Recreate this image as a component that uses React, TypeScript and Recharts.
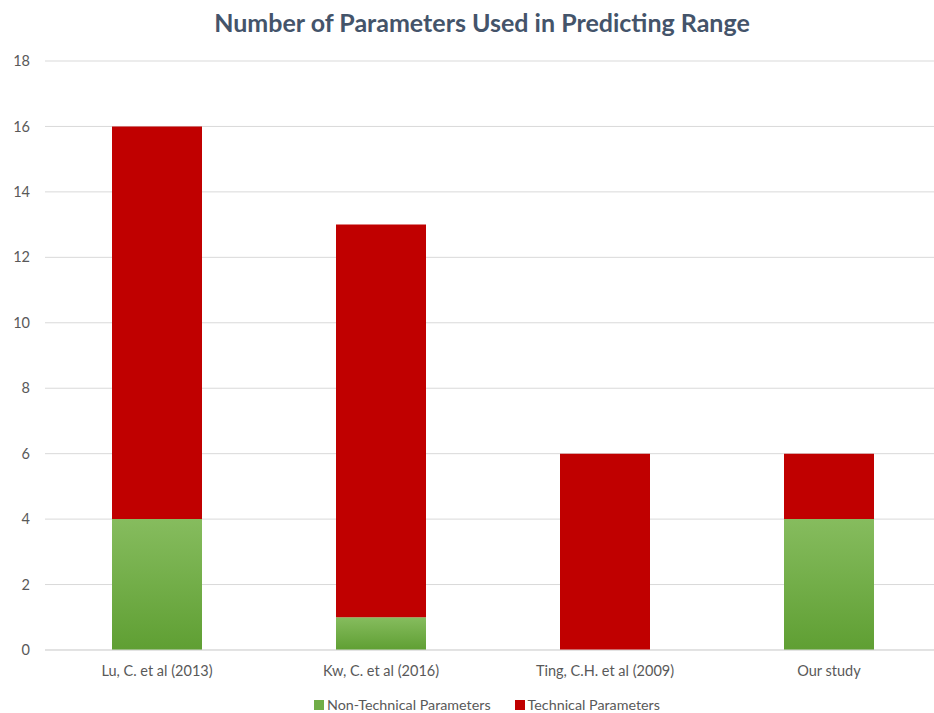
import React from 'react'
import { BarChart, Bar, XAxis, YAxis, CartesianGrid, Legend } from 'recharts'

const studies = ['Lu, C. et al (2013)', 'Kw, C. et al (2016)', 'Ting, C.H. et al (2009)', 'Our study']
const nonTechnical = [4, 1, 0, 4]
const technical = [12, 12, 6, 2]
const yTicks = [0, 2, 4, 6, 8, 10, 12, 14, 16, 18]

const data = studies.map((name, i) => ({
  name,
  nonTechnical: nonTechnical[i],
  technical: technical[i],
}))

const FONT = 'Lato, "Open Sans", sans-serif'
const TEXT = '#595959'

const renderLegend = () => (
  <div style={{ display: 'flex', justifyContent: 'center', gap: 24, paddingLeft: 33, fontFamily: FONT, fontSize: 14.3, color: TEXT, lineHeight: '17px' }}>
    <span style={{ display: 'flex', alignItems: 'center', gap: 3 }}>
      <span style={{ width: 10, height: 10, background: '#70AD47', display: 'inline-block' }} />
      Non-Technical Parameters
    </span>
    <span style={{ display: 'flex', alignItems: 'center', gap: 3 }}>
      <span style={{ width: 10, height: 10, background: '#C00000', display: 'inline-block' }} />
      Technical Parameters
    </span>
  </div>
)

export default function App() {
  return (
    <div style={{ position: 'absolute', left: 0, top: 0, width: 934, height: 713, background: '#fff', overflow: 'hidden' }}>
      <div
        style={{
          position: 'absolute',
          top: 7,
          width: 964,
          textAlign: 'center',
          fontFamily: FONT,
          fontWeight: 700,
          fontSize: 25,
          color: '#44546A',
        }}
      >
        Number of Parameters Used in Predicting Range
      </div>
      {/* plot runs slightly past the right edge, as in the source layout */}
      <BarChart width={941} height={713} data={data} margin={{ top: 61, right: 0, bottom: 0, left: 0 }}>
        <defs>
          <linearGradient id="greenFill" x1="0" y1="0" x2="0" y2="1">
            <stop offset="0%" stopColor="#86BC5E" />
            <stop offset="100%" stopColor="#5F9F33" />
          </linearGradient>
        </defs>
        <CartesianGrid vertical={false} stroke="#D9D9D9" />
        <XAxis
          dataKey="name"
          height={46}
          tickLine={false}
          axisLine={{ stroke: '#D9D9D9' }}
          tick={{ fill: TEXT, fontSize: 14.5, fontFamily: FONT }}
          tickMargin={10}
        />
        <YAxis
          width={45}
          domain={[0, 18]}
          ticks={yTicks}
          tickLine={false}
          axisLine={false}
          tick={{ fill: TEXT, fontSize: 14.5, fontFamily: FONT }}
          tickMargin={9}
        />
        <Legend verticalAlign="bottom" height={17} content={renderLegend} />
        <Bar dataKey="nonTechnical" name="Non-Technical Parameters" stackId="a" fill="url(#greenFill)" barSize={90} isAnimationActive={false} />
        <Bar dataKey="technical" name="Technical Parameters" stackId="a" fill="#C00000" barSize={90} isAnimationActive={false} />
      </BarChart>
    </div>
  )
}
